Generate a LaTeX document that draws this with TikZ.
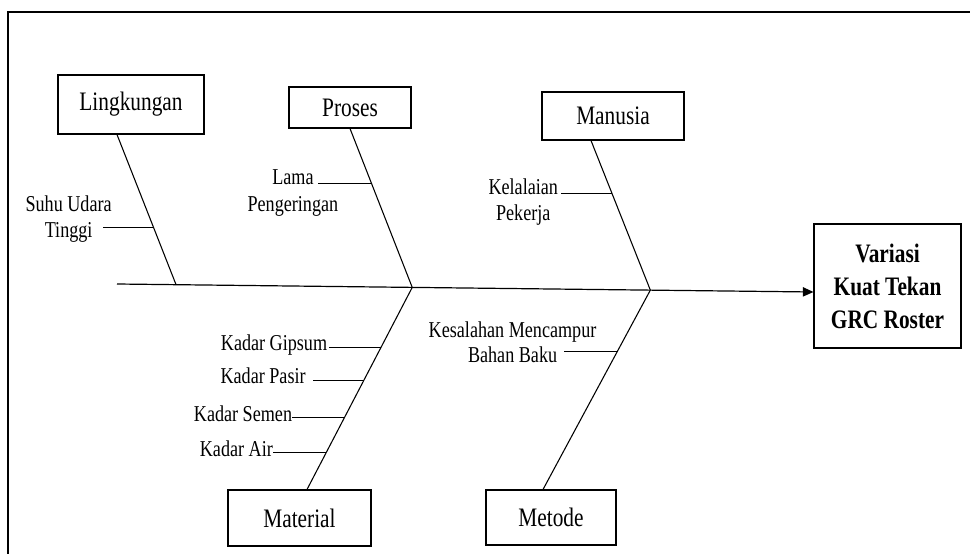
\documentclass[tikz,border=0pt]{standalone}
\usepackage{fontspec}
\setmainfont{Liberation Serif}[FakeStretch=0.8]
\usetikzlibrary{positioning,calc,arrows.meta}

\tikzset{
    catbox/.style={draw, line width=0.8pt, inner sep=0pt, font=\fontsize{20}{24}\selectfont},
    cause/.style={inner sep=0pt, text height=12pt, text depth=3.8pt, font=\fontsize{17}{20}\selectfont},
    bone/.style={line width=0.8pt}
}

\begin{document}
\begin{tikzpicture}[x=0.75pt, y=-0.75pt]
\useasboundingbox (0,0) rectangle (970,553);
% frame
\draw[line width=1.6pt] (8,12) rectangle (1000,580);

% categories
\node[catbox, minimum width=109.5pt, minimum height=44.25pt] (lingk) at (131,104.5) {Lingkungan};
\node[catbox, minimum width=91.5pt, minimum height=30.75pt] (proses) at (350,107.5) {Proses};
\node[catbox, minimum width=106.5pt, minimum height=36pt] (manusia) at (613,116) {Manusia};
\node[catbox, minimum width=107.25pt, minimum height=42pt] (material) at (299.5,518) {Material};
\node[catbox, minimum width=97.5pt, minimum height=41.25pt] (metode) at (551,517.5) {Metode};

% effect
\node[catbox, minimum width=110.25pt, minimum height=93pt, align=center,
    font=\fontsize{20}{24.75}\selectfont\bfseries] (variasi) at (887.5,286)
    {Variasi\\Kuat Tekan\\GRC Roster};

% spine
\coordinate (tail) at (117,284);
\coordinate (head) at ($(variasi.west)+(0,6)$);
\coordinate (j1) at ($(tail)!0.0848!(head)$);
\coordinate (j2) at ($(tail)!0.4239!(head)$);
\coordinate (j3) at ($(tail)!0.7658!(head)$);
\draw[line width=0.9pt, -{Triangle[length=8pt,width=7pt]}] (tail) -- (head);

% bones
\coordinate (lb) at ($(lingk.south)+(-14,0)$);
\coordinate (mb) at ($(manusia.south)+(-22,0)$);
\coordinate (matb) at ($(material.north)+(7.5,0)$);
\coordinate (metb) at ($(metode.north)+(-8,0)$);
\draw[bone] (lb) -- (j1);
\draw[bone] (proses.south) -- (j2);
\draw[bone] (mb) -- (j3);
\draw[bone] (j2) -- (matb);
\draw[bone] (j3) -- (metb);

% Lingkungan
\coordinate (s1) at ($(lb)!0.617!(j1)$);
\draw[bone] (s1) -- ++(-50,0) coordinate (s1e);
\node[cause, left=8pt of s1e, yshift=-4pt] (tinggi) {Tinggi};
\node[cause, above=3.5pt of tinggi] (suhu) {Suhu Udara};

% Proses
\coordinate (s2) at ($(proses.south)!0.345!(j2)$);
\draw[bone] (s2) -- ++(-53,0) coordinate (s2e);
\node[cause, left=3.5pt of s2e, yshift=3pt] (lama) {Lama};
\node[cause, below=3.5pt of lama] (pengeringan) {Pengeringan};

% Manusia
\coordinate (s3) at ($(mb)!0.353!(j3)$);
\draw[bone] (s3) -- ++(-51,0) coordinate (s3e);
\node[cause, left=2pt of s3e, yshift=3.5pt] (kelalaian) {Kelalaian};
\node[cause, below=3.5pt of kelalaian] (pekerja) {Pekerja};

% Metode
\coordinate (s4) at ($(j3)!0.31!(metb)$);
\draw[bone] (s4) -- ++(-53,0) coordinate (s4e);
\node[cause, left=5pt of s4e, yshift=-4pt] (bahan) {Bahan Baku};
\node[cause, above=3pt of bahan] (kesalahan) {Kesalahan Mencampur};

% Material
\coordinate (s5) at ($(j2)!0.299!(matb)$);
\coordinate (s6) at ($(j2)!0.462!(matb)$);
\coordinate (s7) at ($(j2)!0.645!(matb)$);
\coordinate (s8) at ($(j2)!0.818!(matb)$);
\draw[bone] (s5) -- ++(-52,0) coordinate (s5e);
\draw[bone] (s6) -- ++(-51,0) coordinate (s6e);
\draw[bone] (s7) -- ++(-52,0) coordinate (s7e);
\draw[bone] (s8) -- ++(-53,0) coordinate (s8e);
\node[cause, left=1pt of s5e, yshift=2pt] (gipsum) {Kadar Gipsum};
\node[cause, left=5pt of s6e, yshift=2pt] (pasir) {Kadar Pasir};
\node[cause, left=0pt of s7e, yshift=1.5pt] (semen) {Kadar Semen};
\node[cause, left=0pt of s8e, yshift=1pt] (air) {Kadar Air};
\end{tikzpicture}
\end{document}
